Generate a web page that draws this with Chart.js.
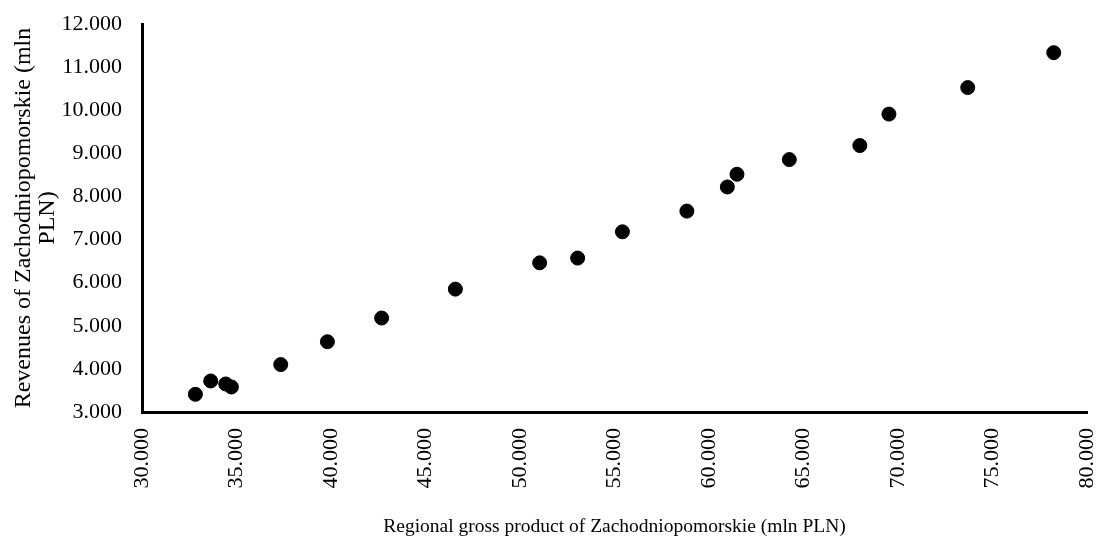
<!DOCTYPE html>
<html>
<head>
<meta charset="utf-8">
<script src="https://cdn.jsdelivr.net/npm/chart.js@4.4.0/dist/chart.umd.min.js"></script>
<style>
    html, body { margin: 0; padding: 0; background: #fff; }
    #wrap { width: 1101px; height: 542px; }
</style>
</head>
<body>
<div id="wrap"><canvas id="scatterChart"></canvas></div>
<script>
// Regional gross product (x) vs revenues (y), mln PLN
const gdpValues = [32825, 33635, 34430, 34730, 37340, 39810, 42680, 46580, 51040, 53050,
    55420, 58830, 60970, 61480, 64250, 67980, 69520, 73690, 78240];
const revenueValues = [3410, 3720, 3650, 3580, 4100, 4630, 5180, 5850, 6460, 6570,
    7180, 7660, 8220, 8515, 8855, 9180, 9910, 10525, 11335];

const xTicks = [30000, 35000, 40000, 45000, 50000, 55000, 60000, 65000, 70000, 75000, 80000];
const yTicks = [3000, 4000, 5000, 6000, 7000, 8000, 9000, 10000, 11000, 12000];

const xTitle = 'Regional gross product of Zachodniopomorskie (mln PLN)';
const yTitle = ['Revenues of Zachodniopomorskie (mln', 'PLN)'];

const FONT = 'Liberation Serif, Times New Roman, serif';

function formatThousands(value) {
    return String(value).replace(/\B(?=(\d{3})+(?!\d))/g, '.');
}

Chart.defaults.color = '#000';
Chart.defaults.font.family = FONT;

const points = gdpValues.map((x, i) => ({ x: x, y: revenueValues[i] }));

const ctx = document.getElementById('scatterChart').getContext('2d');
new Chart(ctx, {
    type: 'scatter',
    data: {
        datasets: [{
            label: 'Revenues',
            data: points,
            backgroundColor: '#000',
            borderColor: '#000',
            borderWidth: 1,
            pointRadius: 7,
            pointHoverRadius: 7
        }]
    },
    options: {
        responsive: true,
        maintainAspectRatio: false,
        animation: false,
        layout: { padding: { top: 24, right: 14, bottom: 0, left: 0 } },
        plugins: {
            legend: { display: false },
            tooltip: { enabled: false }
        },
        scales: {
            x: {
                type: 'linear',
                min: xTicks[0],
                max: xTicks[xTicks.length - 1],
                afterBuildTicks: (scale) => { scale.ticks = xTicks.map(v => ({ value: v })); },
                afterFit: (scale) => {
                    scale.height = 130;
                    scale.paddingLeft = 0;
                    scale.paddingRight = 0;
                },
                grid: { display: true, color: 'rgba(0,0,0,0)', drawTicks: false },
                border: { display: true, color: '#000', width: 3 },
                ticks: {
                    minRotation: 90,
                    maxRotation: 90,
                    padding: 16,
                    font: { size: 22, family: FONT },
                    callback: (value) => formatThousands(value)
                },
                title: {
                    display: true,
                    text: xTitle,
                    font: { size: 19.5, family: FONT, lineHeight: 1 },
                    padding: { top: 0, bottom: 5 }
                }
            },
            y: {
                type: 'linear',
                min: yTicks[0],
                max: yTicks[yTicks.length - 1],
                afterBuildTicks: (scale) => { scale.ticks = yTicks.map(v => ({ value: v })); },
                afterFit: (scale) => {
                    scale.width = 142;
                    scale.paddingTop = 0;
                    scale.paddingBottom = 0;
                },
                grid: { display: true, color: 'rgba(0,0,0,0)', drawTicks: false },
                border: { display: true, color: '#000', width: 3 },
                ticks: {
                    padding: 20,
                    font: { size: 22, family: FONT },
                    callback: (value) => formatThousands(value)
                },
                title: {
                    display: true,
                    text: yTitle,
                    font: { size: 24, family: FONT, lineHeight: 1 },
                    padding: { top: 12, bottom: 0 }
                }
            }
        }
    }
});
</script>
</body>
</html>
